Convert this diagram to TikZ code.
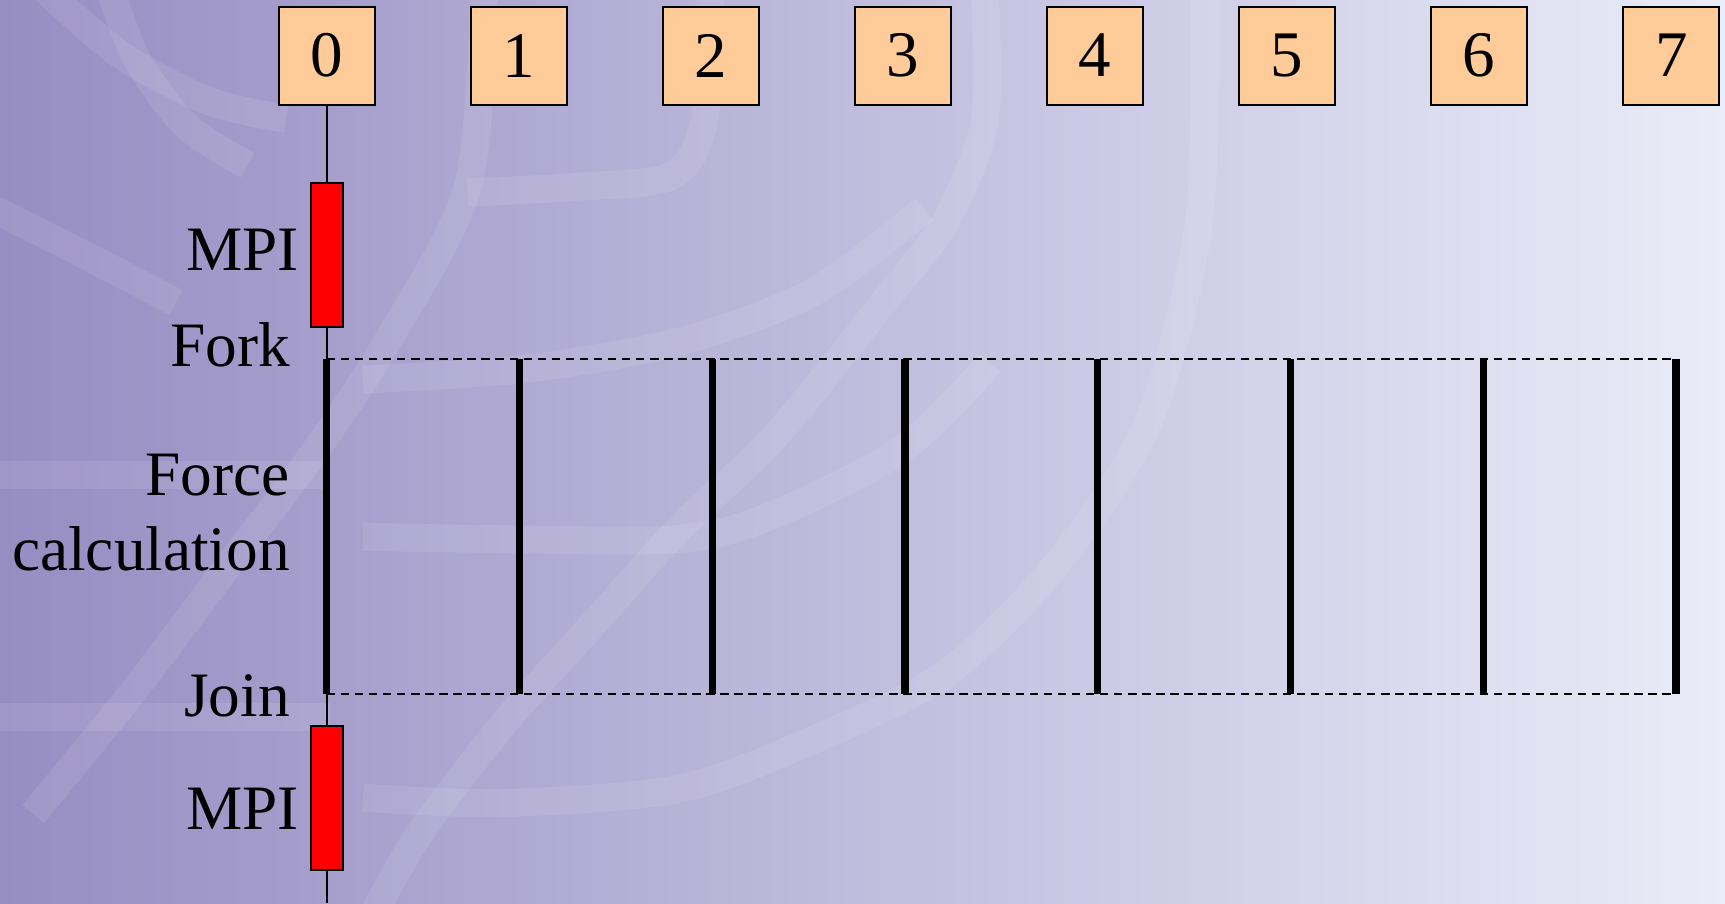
\documentclass[tikz,border=0pt]{standalone}
\usepackage{fontspec}
\setmainfont{Liberation Serif}
\usetikzlibrary{positioning}
\definecolor{BgLeft}{RGB}{150,141,194}
\definecolor{BgMid}{RGB}{196,192,224}
\definecolor{BgRight}{RGB}{234,236,248}
\definecolor{ProcPeach}{RGB}{255,204,153}
\definecolor{MpiRed}{RGB}{255,0,0}

\begin{document}
\begin{tikzpicture}[x=0.011cm, y=-0.011cm,
  procbox/.style={draw=black, fill=ProcPeach, line width=0.6pt,
    minimum width=0.96cm, minimum height=0.98cm, inner sep=0pt,
    font=\fontsize{18.5}{22}\selectfont},
  mpibox/.style={draw=black, fill=MpiRed, line width=0.6pt,
    minimum width=0.32cm, minimum height=1.44cm, inner sep=0pt},
  lbl/.style={anchor=base east, inner sep=0pt, font=\fontsize{18}{22}\selectfont},
  link/.style={black, line width=0.6pt},
  thread/.style={black, line width=2.1pt},
  sync/.style={black, line width=0.55pt, dash pattern=on 2.4pt off 1.6pt},
  swirl/.style={white, opacity=0.09, line width=0.28cm}
]
\useasboundingbox (0,0) rectangle (1568,821);
% Background
\shade[left color=BgLeft, middle color=BgMid, right color=BgRight] (0,0) rectangle (1568,821);
\begin{scope}
\clip (0,0) rectangle (1568,821);
\draw[swirl] plot[smooth] coordinates {(40,-10) (110,50) (190,92) (260,108)};
\draw[swirl] plot[smooth] coordinates {(100,-10) (125,55) (170,115) (225,150)};
\draw[swirl] plot[smooth] coordinates {(-10,188) (70,228) (160,275)};
\draw[swirl] plot[smooth] coordinates {(440,-10) (425,170) (350,314) (280,419) (200,524) (120,630) (30,740)};
\draw[swirl] plot[smooth] coordinates {(645,-10) (640,110) (610,160) (520,170) (425,175)};
\draw[swirl] plot[smooth] coordinates {(895,-10) (895,110) (860,200) (807,270) (706,395) (616,482) (535,572) (455,661) (380,760) (340,830)};
\draw[swirl] plot[smooth] coordinates {(1095,-10) (1090,200) (1045,380) (962,511) (860,612) (738,673) (617,717) (455,730) (330,725)};
\draw[swirl] plot[smooth] coordinates {(900,330) (819,409) (698,470) (616,490) (455,490) (330,488)};
\draw[swirl] plot[smooth] coordinates {(330,345) (480,335) (620,310) (740,265) (840,190)};
\draw[swirl] (-10,432) -- (300,432);
\draw[swirl] (-10,652) -- (300,652);
\end{scope}

% Processes
\foreach \i in {0,...,7}
  \node[procbox] (p\i) at ({297+174.6*\i},50.5) {\i};

% Threads between fork and join
\foreach \i in {0,...,7} {
  \coordinate (f\i) at ({297+175.2*\i},326);
  \coordinate (j\i) at ({297+175.2*\i},631);
  \draw[thread] (f\i) -- (j\i);
}
\draw[sync] (f0) -- (f7);
\draw[sync] (j0) -- (j7);

% Master process
\node[mpibox] (mpiA) at (297,231.5) {};
\node[mpibox] (mpiB) at (297,725.5) {};
\coordinate (bot) at (297,821);
\draw[link] (p0.south) -- (mpiA.north);
\draw[link] (mpiA.south) -- (f0);
\draw[link] (j0) -- (mpiB.north);
\draw[link] (mpiB.south) -- (bot);

% Labels
\node[lbl] (mpiAlbl) at (272,246) {MPI};
\node[lbl] (forklbl) at (264,333) {Fork};
\node[lbl] (forcelbl) at (264,450) {Force};
\node[lbl] (calclbl) at (264,519) {calculation};
\node[lbl] (joinlbl) at (264,651) {Join};
\node[lbl] (mpiBlbl) at (272,754) {MPI};
\end{tikzpicture}
\end{document}
